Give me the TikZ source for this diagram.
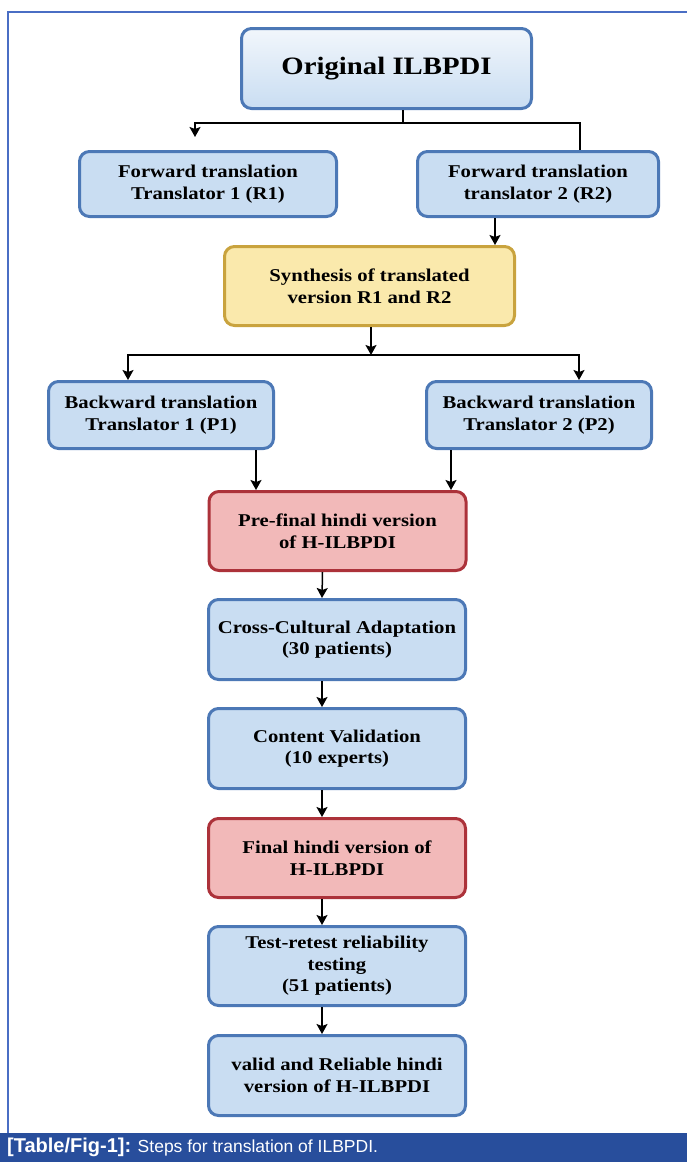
\documentclass[tikz,border=0pt]{standalone}
\usepackage{fontspec}
\usepackage{tikz}
\usepackage{xcolor}
\usetikzlibrary{calc,arrows.meta}
\setmainfont{Liberation Serif}
\newfontfamily\boxfont[FakeStretch=1.15]{Liberation Serif}
\newfontfamily\capfont{Liberation Sans}
\definecolor{bluefill}{RGB}{201,221,242}
\definecolor{blueline}{RGB}{76,120,182}
\definecolor{yellowfill}{RGB}{250,233,172}
\definecolor{yellowline}{RGB}{201,163,62}
\definecolor{redfill}{RGB}{242,185,185}
\definecolor{redline}{RGB}{172,50,58}
\definecolor{frameblue}{RGB}{74,110,196}
\definecolor{capblue}{RGB}{40,78,156}

\begin{document}
\begin{tikzpicture}[x=1pt,y=-1pt]
    \tikzstyle{box}=[draw=blueline,fill=bluefill,line width=3pt,rounded corners=10pt,align=center,inner sep=0pt,minimum width=257pt,minimum height=80pt,font=\boxfont\bfseries\fontsize{18}{21.5}\selectfont]
    \tikzstyle{yellowbox}=[box,draw=yellowline,fill=yellowfill]
    \tikzstyle{redbox}=[box,draw=redline,fill=redfill]
    \tikzstyle{arr}=[line width=1.5pt,-{Stealth[length=10pt,width=11pt,inset=2pt]}]

    \useasboundingbox (0,0) rectangle (687,1162);

    % frame and caption
    \fill[capblue] (0,1133) rectangle (687,1162);
    \draw[frameblue,line width=1.5pt] (8,1133) -- (8,12) -- (687,12);
    \node[anchor=base west,inner sep=0pt,text=white,font=\capfont\fontsize{17.5}{20}\selectfont] (cap) at (7,1152) {{\fontsize{20}{20}\selectfont\bfseries [Table/Fig-1]:} Steps for translation of ILBPDI.};

    \node[box,minimum width=290pt,minimum height=80pt,top color=white!75!bluefill,bottom color=bluefill,font=\boxfont\bfseries\fontsize{25}{30}\selectfont] (orig) at (386.5,68.5) {Original ILBPDI};
    \node[box,minimum width=257pt,minimum height=65pt] (fwd1) at (208,184) {Forward translation\\Translator 1 (R1)};
    \node[box,minimum width=241pt,minimum height=65pt] (fwd2) at (538,184) {Forward translation\\translator 2 (R2)};
    \node[yellowbox,minimum width=290pt,minimum height=79pt] (synth) at (369.5,286) {Synthesis of translated\\version R1 and R2};
    \node[box,minimum width=225pt,minimum height=67pt] (back1) at (161,415) {Backward translation\\Translator 1 (P1)};
    \node[box,minimum width=225pt,minimum height=67pt] (back2) at (539,415) {Backward translation\\Translator 2 (P2)};
    \node[redbox,minimum height=79pt] (pre) at (337.5,531) {Pre-final hindi version\\of H-ILBPDI};
    \node[box] (cross) at (337,639.5) {Cross-Cultural Adaptation\\(30 patients)};
    \node[box] (content) at (337,748.5) {Content Validation\\(10 experts)};
    \node[redbox,minimum height=79pt] (final) at (337,858) {Final hindi version of\\H-ILBPDI};
    \node[box,minimum height=79pt] (test) at (337,966) {Test-retest reliability\\testing\\(51 patients)};
    \node[box] (valid) at (337,1075.5) {valid and Reliable hindi\\version of H-ILBPDI};

    \coordinate (j1) at (403,123);
    \coordinate (a2) at (580,123);
    \coordinate (t1) at (195,137);
    \draw[line width=1.5pt] (orig.south -| j1) -- (j1);
    \draw[arr] (fwd2.north -| a2) |- (j1) -| (t1);
    \draw[arr] ([xshift=-43pt]fwd2.south) -- ([xshift=-43pt]fwd2.south |- synth.north);

    \coordinate (j2) at (371,355);
    \draw[arr] (synth.south -| j2) -- (j2);
    \draw[arr] (j2) -| ([xshift=-33pt]back1.north);
    \draw[arr] (j2) -| ([xshift=40pt]back2.north);
    \draw[arr] ([xshift=95pt]back1.south) -- ([xshift=95pt]back1.south |- pre.north);
    \draw[arr] ([xshift=-88pt]back2.south) -- ([xshift=-88pt]back2.south |- pre.north);

    \foreach \a/\b in {pre/cross,cross/content,content/final,final/test,test/valid}
        \draw[arr] ([xshift=-15pt]\a.south) -- ([xshift=-15pt]\b.north);

\end{tikzpicture}
\end{document}
